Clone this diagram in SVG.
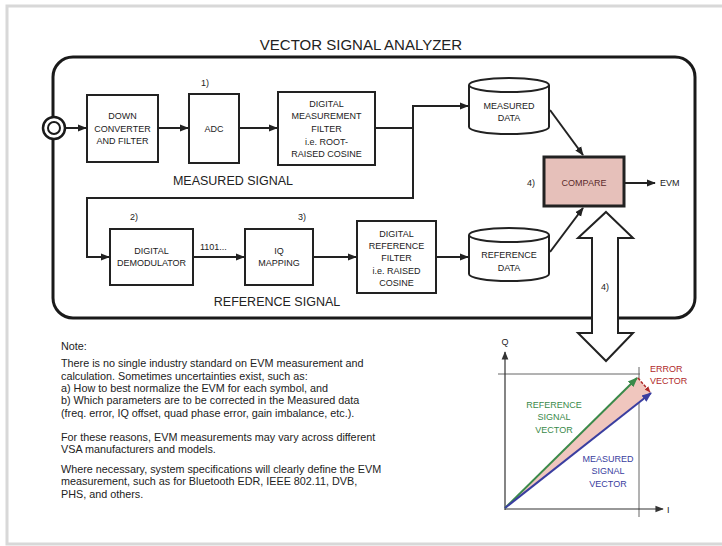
<svg xmlns="http://www.w3.org/2000/svg" width="722" height="546" viewBox="0 0 722 546">
<defs>
<style>
text{font-family:"Liberation Sans",Arial,sans-serif;fill:#222}
.box{fill:#fff;stroke:#222;stroke-width:2}
.bt{font-size:9px;text-anchor:middle}
.lbl{font-size:9px}
.sec{font-size:12.5px;text-anchor:middle}
.note{font-size:10.8px}
.ln{fill:none;stroke:#222;stroke-width:2}
.g{fill:none;stroke:#666;stroke-width:1}
</style>
<marker id="ah" viewBox="0 0 10 10" refX="9" refY="5" markerWidth="4.5" markerHeight="4.5" orient="auto" markerUnits="strokeWidth"><path d="M0,1 L10,5 L0,9 Z" fill="#222"/></marker>
<marker id="ahg" viewBox="0 0 10 10" refX="9" refY="5" markerWidth="5" markerHeight="5" orient="auto" markerUnits="strokeWidth"><path d="M0,1 L10,5 L0,9 Z" fill="#3a8a4a"/></marker>
<marker id="ahb" viewBox="0 0 10 10" refX="9" refY="5" markerWidth="5" markerHeight="5" orient="auto" markerUnits="strokeWidth"><path d="M0,1 L10,5 L0,9 Z" fill="#3a3ea0"/></marker>
<marker id="ahr" viewBox="0 0 10 10" refX="9" refY="5" markerWidth="4" markerHeight="4" orient="auto" markerUnits="strokeWidth"><path d="M0,1 L10,5 L0,9 Z" fill="#b02a2a"/></marker>
<marker id="ahk" viewBox="0 0 10 10" refX="9" refY="5" markerWidth="7" markerHeight="7" orient="auto" markerUnits="strokeWidth"><path d="M0,1 L10,5 L0,9 Z" fill="#333"/></marker>
</defs>
<rect x="0" y="0" width="722" height="546" fill="#fff"/>
<path d="M722,6 H7 V544 H722" fill="none" stroke="#d8d8d8" stroke-width="3"/>

<text x="361" y="50" font-size="15" text-anchor="middle">VECTOR SIGNAL ANALYZER</text>
<rect id="analyzer" x="53" y="57" width="642" height="261" rx="20" fill="none" stroke="#1a1a1a" stroke-width="3"/>

<g id="connectors">
<line class="ln" x1="65" y1="128" x2="86" y2="128" marker-end="url(#ah)"/>
<line class="ln" x1="158" y1="128" x2="188" y2="128" marker-end="url(#ah)"/>
<line class="ln" x1="239" y1="128" x2="277" y2="128" marker-end="url(#ah)"/>
<polyline class="ln" points="375,128 413,128 413,106 468,106" marker-end="url(#ah)"/>
<polyline class="ln" points="413,128 413,198 87,198 87,257 109,257" marker-end="url(#ah)"/>
<line class="ln" x1="193" y1="257" x2="244" y2="257" marker-end="url(#ah)"/>
<line class="ln" x1="313" y1="257" x2="356" y2="257" marker-end="url(#ah)"/>
<line class="ln" x1="436" y1="257" x2="468" y2="257" marker-end="url(#ah)"/>
<line class="ln" x1="550" y1="110" x2="583" y2="155" marker-end="url(#ah)"/>
<line class="ln" x1="550" y1="252" x2="583" y2="208" marker-end="url(#ah)"/>
<line class="ln" x1="625" y1="183" x2="655" y2="183" marker-end="url(#ah)"/>
<polygon points="606,212 633,238 618,238 618,333 633,333 606,361 578,333 592,333 592,238 578,238" fill="#fff" stroke="#222" stroke-width="2"/>
</g>
<text class="lbl" x="605" y="290" text-anchor="middle">4)</text>

<g id="input">
<circle cx="54" cy="128" r="11" fill="#fff" stroke="#1a1a1a" stroke-width="2.5"/>
<circle cx="54" cy="128" r="6" fill="#fff" stroke="#1a1a1a" stroke-width="2"/>
</g>

<g id="downconverter">
<rect class="box" x="87" y="95" width="71" height="67"/>
<text class="bt" x="122.5" y="119">DOWN</text>
<text class="bt" x="122.5" y="132">CONVERTER</text>
<text class="bt" x="122.5" y="144">AND FILTER</text>
</g>
<g id="adc">
<rect class="box" x="189" y="94" width="50" height="69"/>
<text class="bt" x="214" y="132">ADC</text>
<text class="lbl" x="201" y="86">1)</text>
</g>
<g id="dmf">
<rect class="box" x="278" y="92" width="97" height="73"/>
<text class="bt" x="326.5" y="107">DIGITAL</text>
<text class="bt" x="326.5" y="119">MEASUREMENT</text>
<text class="bt" x="326.5" y="132">FILTER</text>
<text class="bt" x="326.5" y="145">i.e. ROOT-</text>
<text class="bt" x="326.5" y="157">RAISED COSINE</text>
</g>
<text class="sec" x="233" y="185">MEASURED SIGNAL</text>

<g id="measureddata">
<path d="M469,85 A40,7 0 0 1 549,85 V127 A40,7 0 0 1 469,127 Z" fill="#fff" stroke="#222" stroke-width="2"/>
<path d="M469,85 A40,7 0 0 0 549,85" fill="none" stroke="#222" stroke-width="2"/>
<text class="bt" x="509" y="109">MEASURED</text>
<text class="bt" x="509" y="121">DATA</text>
</g>

<g id="compare">
<rect x="544" y="157" width="80" height="49" fill="#e6c0ba" stroke="#222" stroke-width="3"/>
<text class="bt" x="584" y="186" style="fill:#5a2a2a">COMPARE</text>
<text class="lbl" x="527" y="186">4)</text>
</g>
<text class="lbl" x="660" y="186">EVM</text>

<g id="demod">
<rect class="box" x="110" y="229" width="83" height="56"/>
<text class="bt" x="151.5" y="254">DIGITAL</text>
<text class="bt" x="151.5" y="266">DEMODULATOR</text>
<text class="lbl" x="130" y="220">2)</text>
</g>
<text class="lbl" x="200" y="250">1101...</text>
<g id="iqmap">
<rect class="box" x="245" y="229" width="68" height="56"/>
<text class="bt" x="279" y="254">IQ</text>
<text class="bt" x="279" y="266">MAPPING</text>
<text class="lbl" x="298" y="220">3)</text>
</g>
<g id="drf">
<rect class="box" x="357" y="221" width="79" height="72"/>
<text class="bt" x="396.5" y="237">DIGITAL</text>
<text class="bt" x="396.5" y="249">REFERENCE</text>
<text class="bt" x="396.5" y="261">FILTER</text>
<text class="bt" x="396.5" y="274">i.e. RAISED</text>
<text class="bt" x="396.5" y="286">COSINE</text>
</g>
<text class="sec" x="277" y="306">REFERENCE SIGNAL</text>

<g id="referencedata">
<path d="M469,235 A40,7 0 0 1 549,235 V274 A40,7 0 0 1 469,274 Z" fill="#fff" stroke="#222" stroke-width="2"/>
<path d="M469,235 A40,7 0 0 0 549,235" fill="none" stroke="#222" stroke-width="2"/>
<text class="bt" x="509" y="258">REFERENCE</text>
<text class="bt" x="509" y="271">DATA</text>
</g>

<g id="note">
<text class="note" x="61" y="350">Note:</text>
<text class="note" x="61" y="367">There is no single industry standard on EVM measurement and</text>
<text class="note" x="61" y="380">calculation. Sometimes uncertainties exist, such as:</text>
<text class="note" x="61" y="392">a) How to best normalize the EVM for each symbol, and</text>
<text class="note" x="61" y="404">b) Which parameters are to be corrected in the Measured data</text>
<text class="note" x="61" y="417">(freq. error, IQ offset, quad phase error, gain imbalance, etc.).</text>
<text class="note" x="61" y="441">For these reasons, EVM measurements may vary across different</text>
<text class="note" x="61" y="453">VSA manufacturers and models.</text>
<text class="note" x="61" y="473">Where necessary, system specifications will clearly define the EVM</text>
<text class="note" x="61" y="485">measurement, such as for Bluetooth EDR, IEEE 802.11, DVB,</text>
<text class="note" x="61" y="498">PHS, and others.</text>
</g>

<g id="vectorplot">
<line class="g" x1="498" y1="374" x2="640" y2="374"/>
<line class="g" x1="639" y1="367" x2="639" y2="517"/>
<line x1="505" y1="510" x2="505" y2="352" stroke="#333" stroke-width="1.2" marker-end="url(#ahk)"/>
<line x1="505" y1="509" x2="663" y2="509" stroke="#333" stroke-width="1.2" marker-end="url(#ahk)"/>
<text class="lbl" x="505" y="345" text-anchor="middle">Q</text>
<text class="lbl" x="667" y="513">I</text>
<polygon points="505,508 637,377 651,393" fill="#f0c6be"/>
<line x1="505" y1="508" x2="637" y2="378" stroke="#3a8a4a" stroke-width="2" marker-end="url(#ahg)"/>
<line x1="505" y1="508" x2="651" y2="393" stroke="#3a3ea0" stroke-width="2" marker-end="url(#ahb)"/>
<line x1="638" y1="378" x2="650" y2="392" stroke="#b02a2a" stroke-width="1.5" stroke-dasharray="3,1.5" marker-end="url(#ahr)"/>
<text x="650" y="372" font-size="9" style="fill:#b02a2a">ERROR</text>
<text x="650" y="384" font-size="9" style="fill:#b02a2a">VECTOR</text>
<text x="554" y="408" font-size="9" text-anchor="middle" style="fill:#3a8a4a">REFERENCE</text>
<text x="554" y="420" font-size="9" text-anchor="middle" style="fill:#3a8a4a">SIGNAL</text>
<text x="554" y="433" font-size="9" text-anchor="middle" style="fill:#3a8a4a">VECTOR</text>
<text x="608" y="462" font-size="9" text-anchor="middle" style="fill:#3a3ea0">MEASURED</text>
<text x="608" y="474" font-size="9" text-anchor="middle" style="fill:#3a3ea0">SIGNAL</text>
<text x="608" y="487" font-size="9" text-anchor="middle" style="fill:#3a3ea0">VECTOR</text>
</g>
</svg>
